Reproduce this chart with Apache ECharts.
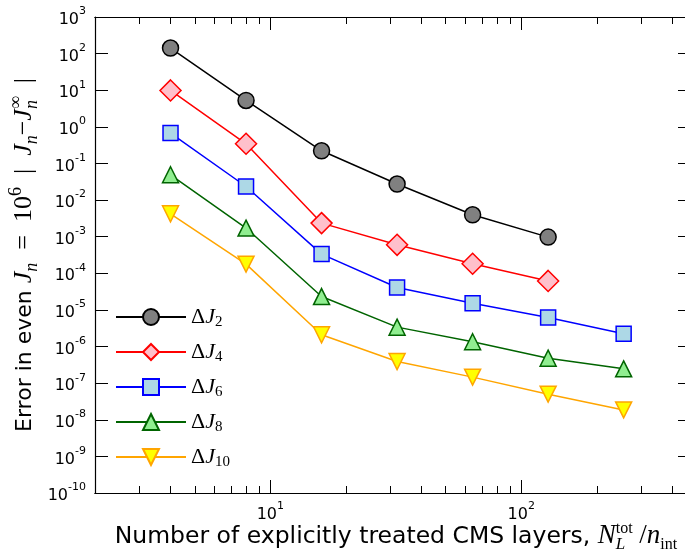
<!DOCTYPE html>
<html><head><meta charset="utf-8">
<script src="https://cdn.jsdelivr.net/npm/echarts@6/dist/echarts.min.js"></script>
<style>html,body{margin:0;padding:0;background:#fff}.layer{position:absolute;left:0;top:0;width:685px;height:554px}</style>
</head><body><div id="axes" class="layer"></div><div id="c" class="layer"></div>
<script>
const nLayers = [4, 8, 16, 32, 64, 128, 256];
const dJ2 = [142, 5.26, 0.222, 0.0274, 0.00396, 0.000975];
const dJ4 = [9.88, 0.345, 2.35e-3, 6.0e-4, 1.82e-4, 6.2e-5];
const dJ6 = [0.677, 0.0235, 3.35e-4, 4.09e-5, 1.53e-5, 6.2e-6, 2.22e-6];
const dJ8 = [0.0491, 1.72e-3, 2.32e-5, 3.39e-6, 1.35e-6, 4.8e-7, 2.46e-7];
const dJ10 = [4.2e-3, 1.78e-4, 2.09e-6, 3.89e-7, 1.46e-7, 5.0e-8, 1.86e-8];
const seriesNames = ['ΔJ2', 'ΔJ4', 'ΔJ6', 'ΔJ8', 'ΔJ10'];
const legendSubs = ['2', '4', '6', '8', '10'];
const xMajorTicks = [10, 100];
const xMinorTicks = [2, 3, 4, 5, 6, 7, 8, 9, 20, 30, 40, 50, 60, 70, 80, 90, 200, 300, 400];
const yTicks = [1e-10, 1e-9, 1e-8, 1e-7, 1e-6, 1e-5, 1e-4, 1e-3, 1e-2, 1e-1, 1, 10, 100, 1000];
const xRange = [2, 475];
const yRange = [1e-10, 1e3];

const SANS = 'DejaVu Sans';
const SERIF = 'Liberation Serif';
const GRID = { left: 95, top: 17, width: 596, height: 476, containLabel: false, outerBoundsMode: 'none' };

function mk(name, vals, symbol, size, line, fill, rotate) {
  return {
    type: 'line', name: name,
    data: vals.map((v, i) => [nLayers[i], v]),
    symbol: symbol, symbolSize: size, symbolRotate: rotate || 0,
    lineStyle: { color: line, width: 1.5 },
    itemStyle: { color: fill, borderColor: line, borderWidth: 1.5 },
    xAxisIndex: 0, yAxisIndex: 0
  };
}

const supLabel = {
  formatter: v => '{b|10}{s|' + Math.round(Math.log10(v)) + '}',
  rich: {
    b: { fontFamily: SANS, fontSize: 16, color: '#000', lineHeight: 22, verticalAlign: 'bottom' },
    s: { fontFamily: SANS, fontSize: 11, color: '#000', lineHeight: 12, verticalAlign: 'top' }
  }
};

function xAxisDef(pos, ticks, len, withLabel) {
  return {
    type: 'log', min: xRange[0], max: xRange[1], position: pos, gridIndex: 0,
    axisLine: { show: true, lineStyle: { color: '#000', width: 1.2 } },
    axisTick: { show: true, inside: true, length: len, customValues: ticks, lineStyle: { color: '#000', width: 1 } },
    axisLabel: withLabel ? Object.assign({ show: true, customValues: ticks, margin: 8 }, supLabel) : { show: false },
    splitLine: { show: false }, minorTick: { show: false }
  };
}
function yAxisDef(pos, withLabel) {
  return {
    type: 'log', min: yRange[0], max: yRange[1], position: pos, gridIndex: 0,
    axisLine: { show: true, lineStyle: { color: '#000', width: 1.2 } },
    axisTick: { show: true, inside: true, length: 13, customValues: yTicks, lineStyle: { color: '#000', width: 1 } },
    axisLabel: withLabel ? Object.assign({ show: true, customValues: yTicks, margin: 9 }, supLabel) : { show: false },
    splitLine: { show: false }, minorTick: { show: false }
  };
}

// Layer 1: frame, ticks and tick labels
const axesChart = echarts.init(document.getElementById('axes'));
axesChart.setOption({
  animation: false,
  grid: GRID,
  xAxis: [
    xAxisDef('bottom', xMajorTicks, 13, true),
    xAxisDef('bottom', xMinorTicks, 7, false),
    xAxisDef('top', xMajorTicks, 13, false),
    xAxisDef('top', xMinorTicks, 7, false)
  ],
  yAxis: [yAxisDef('left', true), yAxisDef('right', false)]
});

// Title text laid out piece by piece (math-style sub/superscripts)
const mctx = document.createElement('canvas').getContext('2d');
function titlePieces(pieces) {
  let x = 0; const items = [];
  pieces.forEach(p => {
    const font = (p.it ? 'italic ' : '') + p.sz + 'px "' + p.f + '"';
    mctx.font = font;
    const w = mctx.measureText(p.t).width;
    items.push({ x: x, dy: p.dy || 0, font: font, t: p.t, sz: p.sz });
    if (!p.stack) x += w;
  });
  const W = x;
  return items.map(it => ({
    type: 'text', x: it.x - W / 2, y: it.dy - 0.34 * it.sz, silent: true,
    style: { text: it.t, font: it.font, fill: '#000', align: 'left', verticalAlign: 'middle' }
  }));
}
const xTitle = titlePieces([
  { t: 'Number of explicitly treated CMS layers, ', f: SANS, sz: 23.5 },
  { t: 'N', f: SERIF, sz: 27, it: true },
  { t: 'L', f: SERIF, sz: 17, it: true, dy: 5, stack: true },
  { t: 'tot', f: SERIF, sz: 16, dy: -11 },
  { t: ' /', f: SERIF, sz: 27 },
  { t: 'n', f: SERIF, sz: 27, it: true },
  { t: 'int', f: SERIF, sz: 16, dy: 5 }
]);
const yTitle = titlePieces([
  { t: 'Error in even ', f: SANS, sz: 22 },
  { t: 'J', f: SERIF, sz: 26, it: true },
  { t: 'n', f: SERIF, sz: 18, it: true, dy: 5 },
  { t: '  =  10', f: SERIF, sz: 26 },
  { t: '6', f: SERIF, sz: 18, dy: -11 },
  { t: '  |  ', f: SERIF, sz: 26 },
  { t: 'J', f: SERIF, sz: 26, it: true },
  { t: 'n', f: SERIF, sz: 18, it: true, dy: 5 },
  { t: '−', f: SERIF, sz: 26 },
  { t: 'J', f: SERIF, sz: 26, it: true },
  { t: 'n', f: SERIF, sz: 18, it: true, dy: 5, stack: true },
  { t: '∞', f: SERIF, sz: 18, dy: -11 },
  { t: '  |', f: SERIF, sz: 26 }
]);

// Layer 2: series, legend and axis titles
const chart = echarts.init(document.getElementById('c'));
chart.setOption({
  animation: false,
  grid: GRID,
  xAxis: { type: 'log', min: xRange[0], max: xRange[1], show: false, splitLine: { show: false } },
  yAxis: { type: 'log', min: yRange[0], max: yRange[1], show: false, splitLine: { show: false } },
  legend: {
    orient: 'vertical', left: 115, top: 306, padding: 0,
    itemWidth: 70, itemHeight: 20, itemGap: 11,
    data: seriesNames,
    formatter: name => '{d|Δ}{j|J}{s|' + legendSubs[seriesNames.indexOf(name)] + '}',
    textStyle: {
      rich: {
        d: { fontFamily: SERIF, fontSize: 22, color: '#000', lineHeight: 26 },
        j: { fontFamily: SERIF, fontStyle: 'italic', fontSize: 22, color: '#000', lineHeight: 26 },
        s: { fontFamily: SERIF, fontSize: 15, color: '#000', lineHeight: 15, verticalAlign: 'bottom' }
      }
    }
  },
  graphic: [
    { type: 'group', x: 396, y: 545, children: xTitle },
    { type: 'group', x: 33, y: 255, rotation: Math.PI / 2, children: yTitle }
  ],
  series: [
    mk(seriesNames[0], dJ2, 'circle', 16, '#000000', '#808080'),
    mk(seriesNames[1], dJ4, 'diamond', 21, '#ff0000', '#ffc0cb'),
    mk(seriesNames[2], dJ6, 'rect', 15, '#0000ff', '#add8e6'),
    mk(seriesNames[3], dJ8, 'triangle', 16, '#006400', '#90ee90'),
    mk(seriesNames[4], dJ10, 'triangle', 16, '#ffa500', '#ffff00', 180)
  ]
});
</script></body></html>
